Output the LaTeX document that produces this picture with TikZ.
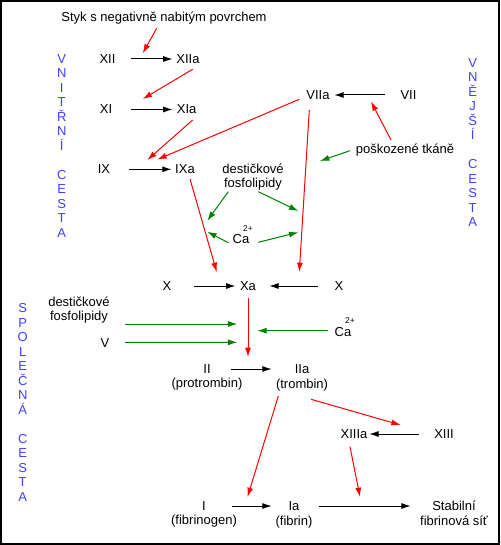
\documentclass[tikz,border=0pt]{standalone}
\usepackage{fontspec}
\setmainfont{Liberation Sans}
\usepackage{xcolor}
\usetikzlibrary{arrows.meta}
\definecolor{cestablue}{RGB}{64,64,255}
\definecolor{actred}{RGB}{255,0,0}
\definecolor{cofgreen}{RGB}{0,128,0}
\tikzset{
        lbl/.style = {inner sep=0pt, align=center,
            font=\fontsize{9.75}{10.5}\selectfont},
        sub/.style = {inner sep=0pt, label distance=3.4pt,
            font=\fontsize{9.75}{10.5}\selectfont},
        vlbl/.style = {inner sep=0pt, align=center, text=cestablue,
            font=\fontsize{9.75}{10.875}\selectfont},
        arrow/.style = {draw, -{Latex[length=7pt,width=4.5pt]}, line width=0.75pt},
        redarrow/.style = {arrow, actred},
        greenarrow/.style = {arrow, cofgreen},
    }
% Ca with the charge set over its end
\newcommand{\caion}{Ca\rlap{\hspace{-4.6pt}\raisebox{9.5pt}[0pt][0pt]{\fontsize{6.3}{7}\selectfont 2+}}}

\begin{document}
\begin{tikzpicture}[x=0.75pt,y=-0.75pt]
\useasboundingbox (0,0) rectangle (500,545);
\draw [line width=1.5pt] (1,1) rectangle (499,544);

% pathway names
\node [vlbl] (vnitrni) at (61.7,146) {V\\N\\I\\T\\Ř\\N\\Í\\~\\C\\E\\S\\T\\A};
\node [vlbl] (vnejsi) at (472.7,142.5) {V\\N\\Ě\\J\\Š\\Í\\~\\C\\E\\S\\T\\A};
\node [vlbl] (spolecna) at (22.7,402.5) {S\\P\\O\\L\\E\\Č\\N\\Á\\~\\C\\E\\S\\T\\A};

% intrinsic pathway
\node [lbl] (styk) at (164,18.5) {Styk s negativně nabitým povrchem};
\node [lbl] (XII) at (107.5,59) {XII};
\node [lbl] (XIIa) at (188,59) {XIIa};
\node [lbl] (XI) at (106,109.5) {XI};
\node [lbl] (XIa) at (186.6,109.5) {XIa};
\node [lbl] (IX) at (104,169.3) {IX};
\node [lbl] (IXa) at (185,169.3) {IXa};

% extrinsic pathway
\node [lbl] (VIIa) at (318,95) {VIIa};
\node [lbl] (VII) at (408.5,95) {VII};
\node [lbl] (poskoz) at (405,150) {poškozené tkáně};
\node [lbl] (destR) at (253,177) {destičkové\\fosfolipidy};
\node [lbl] (CaU) at (241,239.3) {\caion};

% common pathway
\node [lbl] (XL) at (167,286) {X};
\node [lbl] (Xa) at (248,286) {Xa};
\node [lbl] (XR) at (339,286) {X};
\node [lbl] (destL) at (79,310) {destičkové\\fosfolipidy};
\node [lbl] (V) at (105,343.5) {V};
\node [lbl] (CaR) at (343,331.7) {\caion};
\node [lbl, label={[sub]below:(protrombin)}] (II) at (207,369) {II};
\node [lbl, label={[sub]below:(trombin)}] (IIa) at (302,369) {IIa};
\node [lbl] (XIIIa) at (354,434) {XIIIa};
\node [lbl] (XIII) at (444,434) {XIII};
\node [lbl, label={[sub]below:(fibrinogen)}] (I) at (204,506) {I};
\node [lbl, label={[sub]below:(fibrin)}] (Ia) at (294,506) {Ia};
\node [lbl, label={[sub]below:fibrinová síť}] (stab) at (454,506) {Stabilní};

% arrow tips that end on a reaction
\coordinate (tXII) at (142.7,53.3);
\coordinate (tXI) at (142.7,99);
\coordinate (tIXa) at (147.3,160);
\coordinate (tIXb) at (157.3,159.5);
\coordinate (tVII) at (371,101.5);
\coordinate (tXaL) at (216.7,272);
\coordinate (tXaR) at (299.3,272);
\coordinate (tII) at (248,357);
\coordinate (tI) at (247.5,497);
\coordinate (tXIII) at (400.7,425);
\coordinate (tIa) at (360,497);
\coordinate (gVIIa) at (320,161);
\coordinate (gIXa1) at (207.3,220.7);
\coordinate (gVIIa1) at (298.3,211);
\coordinate (gIXa2) at (207.3,231.7);
\coordinate (gVIIa2) at (298.3,232.3);
\coordinate (gXa1) at (237.3,324);
\coordinate (gXa2) at (237.3,342.3);
\coordinate (gXa3) at (257.3,330.7);

% conversions
\draw [arrow, shorten <=11.6pt, shorten >=2.7pt] (XII) -- (XIIa);
\draw [arrow, shorten <=14.3pt, shorten >=3pt] (XI) -- (XIa);
\draw [arrow, shorten <=14.1pt, shorten >=2.5pt] (IX) -- (IXa);
\draw [arrow, shorten <=11.7pt, shorten >=3.3pt] (VII) -- (VIIa);
\draw [arrow, shorten <=17pt, shorten >=3.2pt] (XL) -- (Xa);
\draw [arrow, shorten <=12.5pt, shorten >=9.75pt] (XR) -- (Xa);
\draw [arrow, shorten <=15.3pt, shorten >=17.1pt] (II) -- (IIa);
\draw [arrow, shorten <=11.4pt, shorten >=1.2pt] (XIII) -- (XIIIa);
\draw [arrow, shorten <=19.6pt, shorten >=12.5pt] (I) -- (Ia);
\draw [arrow, shorten <=14.7pt, shorten >=16pt] (Ia) -- (stab);

% activations
\draw [redarrow] ([shift={(-7.3,9.8)}]styk.center) -- (tXII);
\draw [redarrow] ([shift={(4.7,10.3)}]XIIa.center) -- (tXI);
\draw [redarrow] ([shift={(6.1,10.5)}]XIa.center) -- (tIXa);
\draw [redarrow] ([shift={(-18.7,4.3)}]VIIa.center) -- (tIXb);
\draw [redarrow] ([shift={(-14,-10)}]poskoz.center) -- (tVII);
\draw [redarrow] ([shift={(5,9.7)}]IXa.center) -- (tXaL);
\draw [redarrow] ([shift={(-8.7,15)}]VIIa.center) -- (tXaR);
\draw [redarrow] ([shift={(0,12.3)}]Xa.center) -- (tII);
\draw [redarrow] ([shift={(-23.7,27)}]IIa.center) -- (tI);
\draw [redarrow] ([shift={(9,30.3)}]IIa.center) -- (tXIII);
\draw [redarrow] ([shift={(-4,12.7)}]XIIIa.center) -- (tIa);

% cofactors
\draw [greenarrow] ([shift={(-55,0.7)}]poskoz.center) -- (gVIIa);
\draw [greenarrow] ([shift={(-24.7,14.7)}]destR.center) -- (gIXa1);
\draw [greenarrow] ([shift={(5.3,14.7)}]destR.center) -- (gVIIa1);
\draw [greenarrow] ([shift={(-12.7,3.4)}]CaU.center) -- (gIXa2);
\draw [greenarrow] ([shift={(17.3,3)}]CaU.center) -- (gVIIa2);
\draw [greenarrow] ([shift={(46,14)}]destL.center) -- (gXa1);
\draw [greenarrow] ([shift={(20,-1.2)}]V.center) -- (gXa2);
\draw [greenarrow] ([shift={(-14.7,-1)}]CaR.center) -- (gXa3);

\end{tikzpicture}
\end{document}
